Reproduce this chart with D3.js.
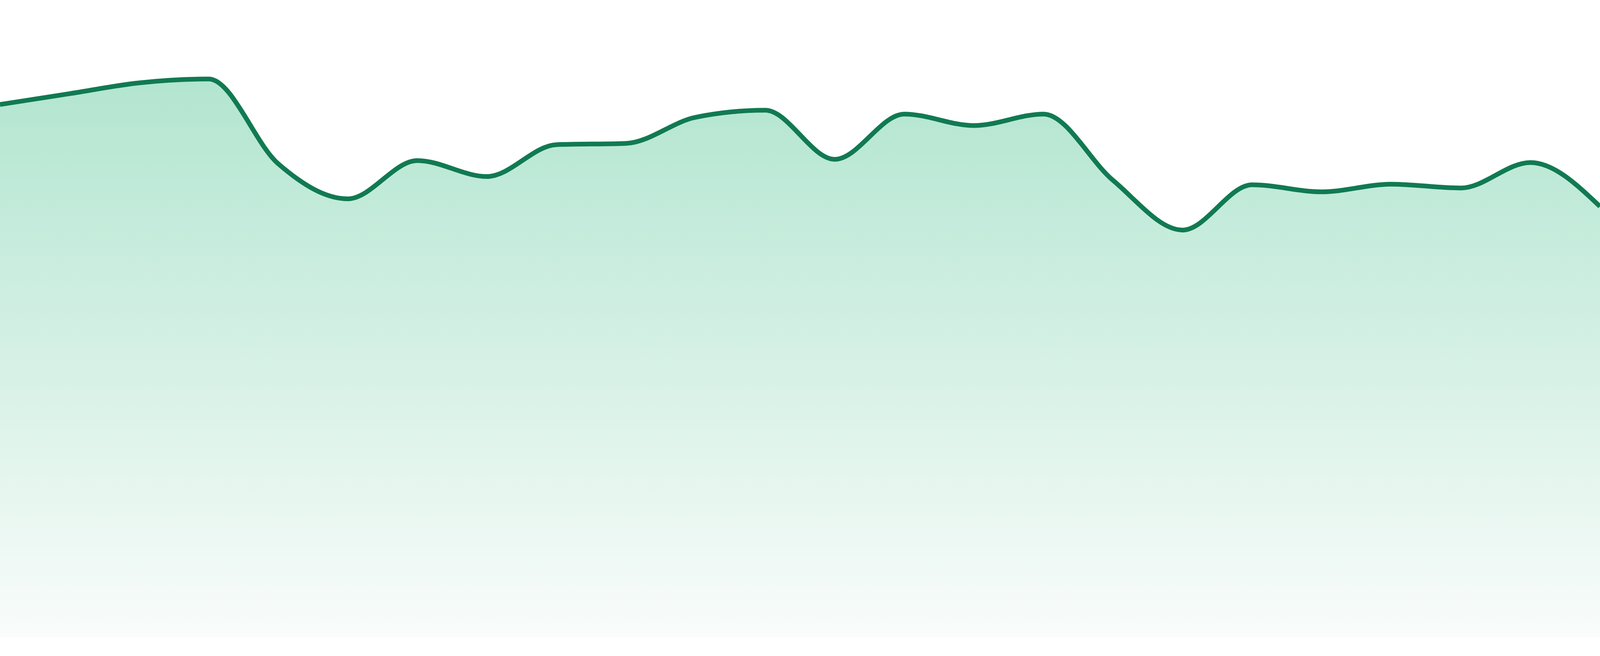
<!DOCTYPE html>
<html>
<head>
<meta charset="utf-8">
<script src="https://cdn.jsdelivr.net/npm/d3@7"></script>
<style>
	html,body{margin:0;padding:0;background:#fff;overflow:hidden;}
	svg{display:block;}
</style>
</head>
<body>
<div class="spark"></div>
<script>
// one value per period, 24 periods
const periods=d3.range(24);
const values=[83.6,85.3,87.0,87.6,74.3,68.8,74.8,72.3,77.3,77.5,81.6,82.7,
	75.0,82.1,80.3,82.1,71.7,63.9,71.0,69.9,71.1,70.5,74.5,67.6];

// fill the window (4800x1680 when photographed)
const width=window.innerWidth||4800;
const height=window.innerHeight||1680;
const bottom=height*1632/1680;

const data=periods.map((p,i)=>({p:p,v:values[i]}));

const x=d3.scaleLinear()
	.domain(d3.extent(periods))
	.range([0,width]);

const y=d3.scaleLinear()
	.domain([0,100])
	.range([bottom,0]);

const svg=d3.select('.spark')
	.append('svg')
	.attr('width',width)
	.attr('height',height)

const grad=svg.append('defs')
	.append('linearGradient')
	.attr('id','fill')
	.attr('gradientUnits','userSpaceOnUse')
	.attr('x1',0).attr('x2',0)
	.attr('y1',0).attr('y2',bottom)
grad.append('stop').attr('offset','0%').attr('stop-color','#a8e2ca')
grad.append('stop').attr('offset','100%').attr('stop-color','#f9fcfb')

const area=d3.area()
	.x(d=>x(d.p))
	.y0(y(0))
	.y1(d=>y(d.v))
	.curve(d3.curveMonotoneX)

const line=d3.line()
	.x(d=>x(d.p))
	.y(d=>y(d.v))
	.curve(d3.curveMonotoneX)

svg.append('path')
	.datum(data)
	.attr('d',area)
	.attr('fill','url(#fill)')

svg.append('path')
	.datum(data)
	.attr('d',line)
	.attr('fill','none')
	.attr('stroke','#117a52')
	.attr('stroke-width',12)
	.attr('stroke-linejoin','round')
</script>
</body>
</html>
